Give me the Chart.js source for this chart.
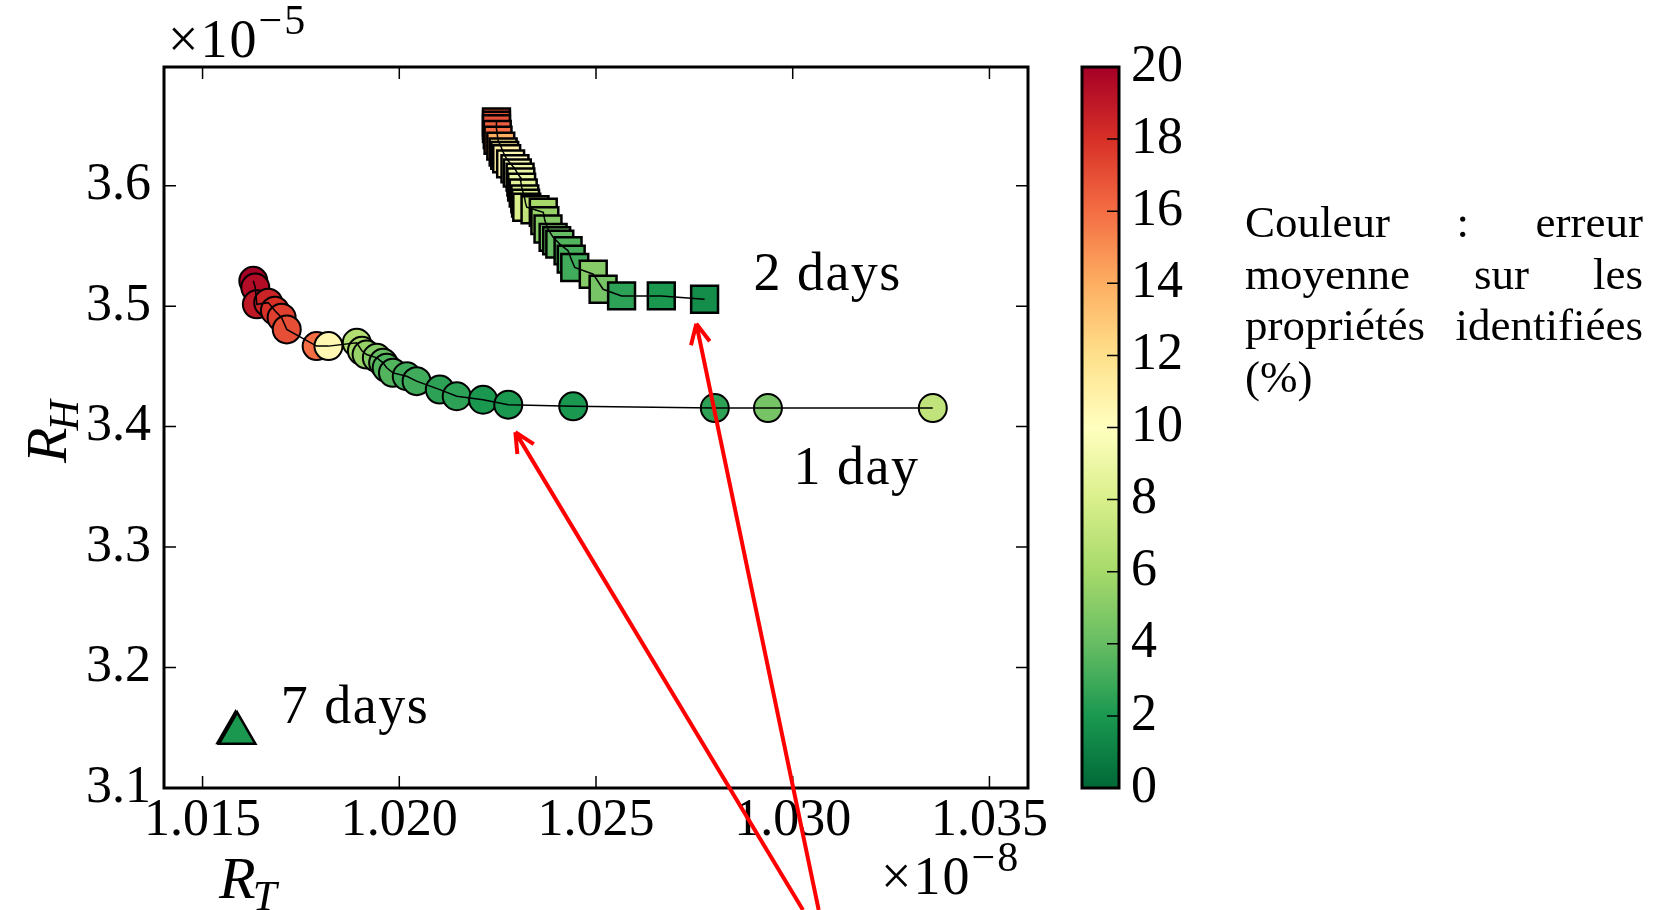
<!DOCTYPE html>
<html>
<head>
<meta charset="utf-8">
<script src="https://cdn.jsdelivr.net/npm/chart.js@4.4.1/dist/chart.umd.min.js"></script>
<style>
  body { margin: 0; background: #fff; width: 1660px; height: 910px; overflow: hidden; position: relative; }
  #main { position: absolute; left: 0; top: 0; }
  #cbar { position: absolute; left: 1060px; top: 0; }
  #note { position: absolute; left: 1245px; top: 197px; width: 398px; font-family: "Liberation Serif", serif;
          font-size: 45px; line-height: 51.5px; color: #000; }
  #note div { display: flex; justify-content: space-between; }
</style>
</head>
<body>
<canvas id="main" width="1060" height="910"></canvas>
<canvas id="cbar" width="200" height="910"></canvas>
<div id="note">
  <div><span>Couleur</span><span>:</span><span>erreur</span></div>
  <div><span>moyenne</span><span>sur</span><span>les</span></div>
  <div><span>propriétés</span><span>identifiées</span></div>
  <div style="justify-content:flex-start">(%)</div>
</div>
<script>
// R_T in units of 1e-8, R_H in units of 1e-5, error in %
const day1X = [1.01629, 1.01634, 1.01638, 1.01667, 1.01684, 1.01701, 1.01714, 1.01790, 1.01820, 1.01892,
  1.01905, 1.01917, 1.01943, 1.01959, 1.01968, 1.01984, 1.02019, 1.02044, 1.02103, 1.02146,
  1.02213, 1.02277, 1.02442, 1.02802, 1.02937, 1.03356];
const day1Y = [3.5210, 3.5154, 3.5015, 3.5029, 3.4962, 3.4904, 3.4807, 3.4668, 3.4668, 3.4696,
  3.4629, 3.4598, 3.4571, 3.4529, 3.4488, 3.4446, 3.4418, 3.4377, 3.4307, 3.4252,
  3.4223, 3.4182, 3.4168, 3.4154, 3.4154, 3.4154];
const day1Err = [20, 19.5, 19, 18.5, 18, 17.5, 17, 16, 10.5, 6.5, 6, 5.5, 5, 4, 3.5, 3.5, 3, 3, 2.5, 2.5,
  2, 2, 2, 2.5, 4.5, 7];

const day2X = [1.02247, 1.02247, 1.02247, 1.02249, 1.02251, 1.02258, 1.02264, 1.02268, 1.02273, 1.02283,
  1.02294, 1.02300, 1.02307, 1.02309, 1.02311, 1.02315, 1.02319, 1.02321, 1.02324, 1.02345,
  1.02366, 1.02370, 1.02378, 1.02391, 1.02400, 1.02408, 1.02429, 1.02437, 1.02446, 1.02493,
  1.02518, 1.02565, 1.02666, 1.02776];
const day2Y = [3.6529, 3.6501, 3.6473, 3.6425, 3.6377, 3.6328, 3.6279, 3.6251, 3.6223, 3.6181,
  3.6140, 3.6105, 3.6071, 3.6030, 3.5988, 3.5939, 3.5890, 3.5855, 3.5821, 3.5800,
  3.5779, 3.5710, 3.5640, 3.5571, 3.5543, 3.5515, 3.5460, 3.5390, 3.5321, 3.5265,
  3.5140, 3.5085, 3.5085, 3.5057];
const day2Err = [17, 17, 17, 16.5, 16, 14, 12, 11.5, 11, 10.5,
  10, 9.5, 9, 9, 9, 8.5, 8, 8, 8, 7,
  6, 5.5, 5, 4.5, 4.2, 4, 3.5, 3.2, 3, 5,
  4.5, 2.5, 2, 1.5];

const day7X = [1.01584, 1.01588];
const day7Y = [3.1460, 3.1454];
const day7Err = [2, 2];

const xTicks = [1.015, 1.020, 1.025, 1.030, 1.035];
const yTicks = [3.1, 3.2, 3.3, 3.4, 3.5, 3.6];
const cbTicks = [0, 2, 4, 6, 8, 10, 12, 14, 16, 18, 20];

const noteText = ["2 days", "1 day", "7 days"];
const noteX = [1.02900, 1.03002, 1.01699];
const noteY = [3.5251, 3.3645, 3.1660];

const arrowTipX = [1.02295, 1.02755];
const arrowTipY = [3.3954, 3.4853];
const arrowTailX = [1.03026, 1.03066];
const arrowTailY = [2.99875, 2.99875];

const serif = '"Liberation Serif", serif';
const rdylgn = ['#006837', '#1a9850', '#66bd63', '#a6d96a', '#d9ef8b', '#ffffbf',
  '#fee08b', '#fdae61', '#f46d43', '#d73027', '#a50026'];

function hexRgb(h) {
  return [1, 3, 5].map(i => parseInt(h.slice(i, i + 2), 16));
}
function errColor(v) {
  const t = Math.max(0, Math.min(1, v / 20)) * (rdylgn.length - 1);
  const i = Math.min(Math.floor(t), rdylgn.length - 2);
  const f = t - i;
  const a = hexRgb(rdylgn[i]), b = hexRgb(rdylgn[i + 1]);
  const c = a.map((x, k) => Math.round(x + (b[k] - x) * f));
  return `rgb(${c[0]},${c[1]},${c[2]})`;
}
function pts(xs, ys) {
  return xs.map((x, i) => ({ x: x, y: ys[i] }));
}

function drawSub(ctx, x, y, main, sub, size) {
  ctx.font = `italic ${size}px ${serif}`;
  ctx.fillText(main, x, y);
  const w = ctx.measureText(main).width;
  ctx.font = `italic ${Math.round(size * 0.72)}px ${serif}`;
  ctx.fillText(sub, x + w - 3, y + size * 0.2);
}
function drawPow(ctx, x, y, exp, size) {
  ctx.font = `${size}px ${serif}`;
  ctx.letterSpacing = "2px";
  ctx.fillText("×10", x, y);
  const w = ctx.measureText("×10").width;
  ctx.font = `${Math.round(size * 0.78)}px ${serif}`;
  ctx.fillText(exp, x + w, y - size * 0.42);
  ctx.letterSpacing = "0px";
}

const decor = {
  id: "decor",
  afterDraw(chart) {
    const ctx = chart.ctx, a = chart.chartArea;
    const xs = chart.scales.x, ys = chart.scales.y;
    ctx.save();
    ctx.strokeStyle = "#000";
    ctx.lineWidth = 1.5;
    ctx.beginPath();
    xTicks.forEach(v => {
      const p = xs.getPixelForValue(v);
      ctx.moveTo(p, a.bottom); ctx.lineTo(p, a.bottom - 12);
      ctx.moveTo(p, a.top); ctx.lineTo(p, a.top + 12);
    });
    yTicks.forEach(v => {
      const p = ys.getPixelForValue(v);
      ctx.moveTo(a.left, p); ctx.lineTo(a.left + 12, p);
      ctx.moveTo(a.right, p); ctx.lineTo(a.right - 12, p);
    });
    ctx.stroke();
    ctx.lineWidth = 3;
    ctx.strokeRect(a.left, a.top, a.right - a.left, a.bottom - a.top);

    ctx.fillStyle = "#000";
    ctx.textBaseline = "alphabetic";
    ctx.textAlign = "left";
    drawSub(ctx, 219, 898, "R", "T", 60);
    drawPow(ctx, 168, 57, "−5", 54);
    drawPow(ctx, 881, 894, "−8", 54);
    ctx.save();
    ctx.translate(66, 463);
    ctx.rotate(-Math.PI / 2);
    drawSub(ctx, 0, 0, "R", "H", 58);
    ctx.restore();

    ctx.font = `54px ${serif}`;
    ctx.letterSpacing = "1.5px";
    ctx.textBaseline = "middle";
    noteText.forEach((t, i) => {
      ctx.fillText(t, xs.getPixelForValue(noteX[i]), ys.getPixelForValue(noteY[i]));
    });
    ctx.letterSpacing = "0px";

    ctx.strokeStyle = "#ff0000";
    ctx.lineWidth = 4;
    arrowTipX.forEach((_, i) => {
      const x1 = xs.getPixelForValue(arrowTipX[i]), y1 = ys.getPixelForValue(arrowTipY[i]);
      const x0 = xs.getPixelForValue(arrowTailX[i]), y0 = ys.getPixelForValue(arrowTailY[i]);
      const ang = Math.atan2(y1 - y0, x1 - x0);
      ctx.beginPath();
      ctx.moveTo(x0, y0); ctx.lineTo(x1, y1);
      [-1, 1].forEach(s => {
        ctx.moveTo(x1, y1);
        ctx.lineTo(x1 - 22 * Math.cos(ang + s * 0.45), y1 - 22 * Math.sin(ang + s * 0.45));
      });
      ctx.stroke();
    });
    ctx.restore();
  }
};

const tickFont = { family: serif, size: 52 };

new Chart(document.getElementById("main"), {
  type: "scatter",
  data: {
    datasets: [
      { data: pts(day1X, day1Y), showLine: true, borderColor: "#000", borderWidth: 1.5, pointRadius: 0, order: 0 },
      { data: pts(day2X, day2Y), showLine: true, borderColor: "#000", borderWidth: 1.5, pointRadius: 0, order: 0 },
      { data: pts(day1X, day1Y), pointStyle: "circle", pointRadius: 14, pointBorderWidth: 2,
        pointBorderColor: "#000", pointBackgroundColor: day1Err.map(errColor), order: 1 },
      { data: pts(day2X, day2Y), pointStyle: "rect", pointRadius: 19, pointBorderWidth: 2.5,
        pointBorderColor: "#000", pointBackgroundColor: day2Err.map(errColor), order: 1 },
      { data: pts(day7X, day7Y), pointStyle: "triangle", pointRadius: 21, pointBorderWidth: 2.5,
        pointBorderColor: "#000", pointBackgroundColor: day7Err.map(errColor), order: 1 }
    ]
  },
  options: {
    responsive: false,
    animation: false,
    devicePixelRatio: 1,
    layout: { padding: { left: 0, top: 67, right: 32, bottom: 0 } },
    elements: { line: { tension: 0 } },
    plugins: { legend: { display: false }, tooltip: { enabled: false } },
    scales: {
      x: {
        type: "linear", min: 1.01402, max: 1.03598,
        afterBuildTicks: s => { s.ticks = xTicks.map(v => ({ value: v })); },
        afterFit: s => { s.height = 122; },
        grid: { display: false, drawTicks: false }, border: { display: false },
        ticks: { font: tickFont, color: "#000", padding: 2, maxRotation: 0, callback: v => v.toFixed(3) }
      },
      y: {
        type: "linear", min: 3.1, max: 3.6985,
        afterBuildTicks: s => { s.ticks = yTicks.map(v => ({ value: v })); },
        afterFit: s => { s.width = 164; },
        grid: { display: false, drawTicks: false }, border: { display: false },
        ticks: { font: tickFont, color: "#000", padding: 13, callback: v => v.toFixed(1) }
      }
    }
  },
  plugins: [decor]
});

const cbarDecor = {
  id: "cbarDecor",
  beforeDatasetsDraw(chart) {
    const ctx = chart.ctx, a = chart.chartArea;
    const g = ctx.createLinearGradient(0, a.bottom, 0, a.top);
    for (let k = 0; k <= 40; k++) g.addColorStop(k / 40, errColor(k / 2));
    ctx.save();
    ctx.fillStyle = g;
    ctx.fillRect(a.left, a.top, a.right - a.left, a.bottom - a.top);
    ctx.restore();
  },
  afterDraw(chart) {
    const ctx = chart.ctx, a = chart.chartArea, ys = chart.scales.y;
    ctx.save();
    ctx.strokeStyle = "#000";
    ctx.lineWidth = 1.5;
    ctx.beginPath();
    cbTicks.slice(1, -1).forEach(v => {
      const p = ys.getPixelForValue(v);
      ctx.moveTo(a.right, p); ctx.lineTo(a.right - 12, p);
    });
    ctx.stroke();
    ctx.lineWidth = 3;
    ctx.strokeRect(a.left, a.top, a.right - a.left, a.bottom - a.top);
    ctx.restore();
  }
};

new Chart(document.getElementById("cbar"), {
  type: "scatter",
  data: { datasets: [] },
  options: {
    responsive: false,
    animation: false,
    devicePixelRatio: 1,
    layout: { padding: { left: 22, top: 67, right: 0, bottom: 122 } },
    plugins: { legend: { display: false }, tooltip: { enabled: false } },
    scales: {
      x: { display: false, min: 0, max: 1 },
      y: {
        position: "right", min: 0, max: 20,
        afterBuildTicks: s => { s.ticks = cbTicks.map(v => ({ value: v })); },
        afterFit: s => { s.width = 141; },
        grid: { display: false, drawTicks: false }, border: { display: false },
        ticks: { font: tickFont, color: "#000", padding: 12 }
      }
    }
  },
  plugins: [cbarDecor]
});
</script>
</body>
</html>
